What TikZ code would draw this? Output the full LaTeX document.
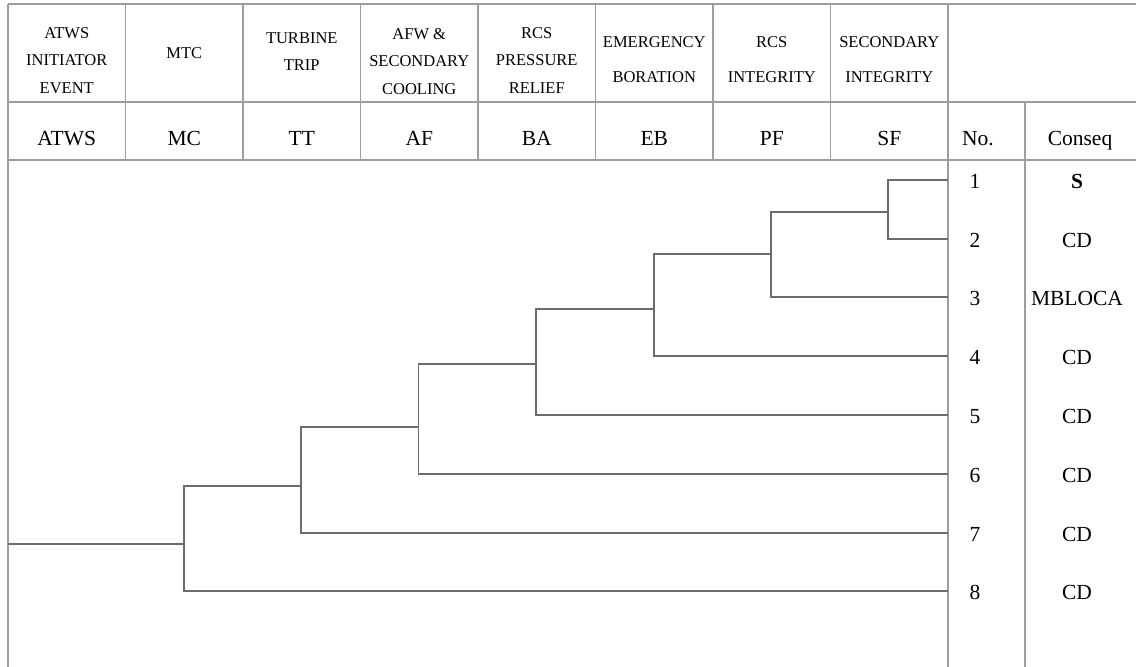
\documentclass[tikz,border=0pt]{standalone}
\usepackage{fontspec}
\setmainfont{Liberation Serif}
\usepackage{tikz}
\usetikzlibrary{positioning}

\definecolor{tablegray}{HTML}{9E9E9E}
\definecolor{treegray}{HTML}{6C6C6C}
\newcommand{\hdrfont}{\fontsize{16.5}{27.5}\selectfont}
\newcommand{\hdrwide}{\fontsize{16.5}{35}\selectfont}
\newcommand{\tabfont}{\fontsize{21.5}{24}\selectfont}

\tikzset{
  tabline/.style={draw=tablegray, line width=1.2pt},
  branch/.style={draw=treegray, line width=1.3pt},
  head/.style={align=center, font=\hdrfont, inner sep=0pt},
  code/.style={anchor=base, font=\tabfont, inner sep=0pt}
}

\begin{document}
\begin{tikzpicture}[x=1pt, y=-1pt]
      \useasboundingbox (0,0) rectangle (1136,667);
      % table grid
      \draw[tabline] (8,4) -- (1136,4) (8,102) -- (1136,102) (8,160) -- (1136,160);
      \draw[tabline] (8,4) -- (8,667) (948,4) -- (948,667) (1025,102) -- (1025,667);
      \foreach \i in {1,...,7}
        \draw[tabline] ({8+117.5*\i},4) -- ({8+117.5*\i},160);
      % heading texts
      \node[head] (h1) at (66.75,60.5) {ATWS\\INITIATOR\\EVENT};
      \node[head] (h2) at (184.25,53) {MTC};
      \node[head, font=\fontsize{16.5}{27}\selectfont] (h3) at (301.75,51.5) {TURBINE\\TRIP};
      \node[head] (h4) at (419.25,61.5) {AFW \&\\SECONDARY\\COOLING};
      \node[head] (h5) at (536.75,60.5) {RCS\\PRESSURE\\RELIEF};
      \node[head, font=\hdrwide] (h6) at (654.25,59.5) {EMERGENCY\\BORATION};
      \node[head, font=\hdrwide] (h7) at (771.75,59.5) {RCS\\INTEGRITY};
      \node[head, font=\hdrwide] (h8) at (889.25,59.5) {SECONDARY\\INTEGRITY};
      % event codes
      \foreach \i/\t in {1/ATWS,2/MC,3/TT,4/AF,5/BA,6/EB,7/PF,8/SF}
        \node[code] (ab\i) at ({8+117.5*(\i-0.5)},145) {\t};
      \node[code] (no) at (978,145) {No.};
      \node[code] (conseq) at (1080,145) {Conseq};
      % sequence ends and outcomes
      \foreach \n/\y/\c in {1/180/\textbf{S},2/239/CD,3/297/MBLOCA,4/356/CD,
                            5/415/CD,6/474/CD,7/533/CD,8/591/CD}{
        \coordinate (e\n) at (948,\y);
        \node[code] (n\n) at (975,\y+8) {\n};
        \node[code] (c\n) at (1077,\y+8) {\c};
      }
      % branch points
      \coordinate (start) at (8,544);
      \coordinate (mc) at (184,544);
      \coordinate (tt) at (301,486);
      \coordinate (af) at (418.7,427);
      \coordinate (ba) at (536,364);
      \coordinate (eb) at (654,309);
      \coordinate (pf) at (771,254);
      \coordinate (sf) at (888,212);
      \draw[branch] (start) -- (mc);
      \draw[branch] (tt) -| (mc) |- (e8);
      \draw[branch] (af) -| (tt) |- (e7);
      \draw[branch] (ba) -| (af) |- (e6);
      \draw[branch] (eb) -| (ba) |- (e5);
      \draw[branch] (pf) -| (eb) |- (e4);
      \draw[branch] (sf) -| (pf) |- (e3);
      \draw[branch] (e1) -| (sf) |- (e2);
    \end{tikzpicture}
\end{document}
